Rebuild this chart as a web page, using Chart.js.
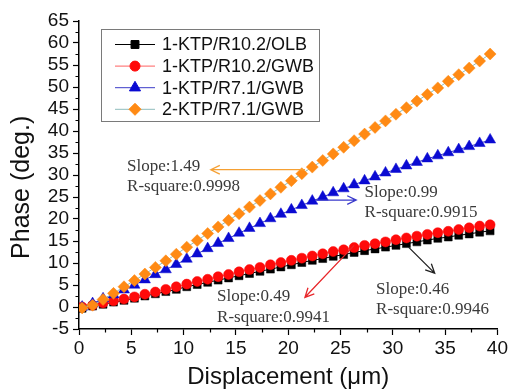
<!DOCTYPE html>
<html>
<head>
<meta charset="utf-8">
<script src="https://cdn.jsdelivr.net/npm/chart.js@4"></script>
<style>
  html, body { margin: 0; padding: 0; background: #fff; }
  #wrap { width: 510px; height: 392px; }
</style>
</head>
<body>
<div id="wrap"><canvas id="c" width="510" height="392"></canvas></div>
<script>
// Displacement (µm) of each measurement
const displacement = [0.3, 1.3, 2.3, 3.3, 4.3, 5.3, 6.3, 7.3, 8.3, 9.3,
  10.3, 11.3, 12.3, 13.3, 14.3, 15.3, 16.3, 17.3, 18.3, 19.3,
  20.3, 21.3, 22.3, 23.3, 24.3, 25.3, 26.3, 27.3, 28.3, 29.3,
  30.3, 31.3, 32.3, 33.3, 34.3, 35.3, 36.3, 37.3, 38.3, 39.3];

// Phase (deg.) per sensor configuration
const phaseKTP1_R102_OLB = [-0.3, 0.2, 0.6, 1.1, 1.5, 2.0, 2.5, 3.0, 3.5, 4.0,
  4.6, 5.1, 5.6, 6.1, 6.6, 7.1, 7.6, 8.1, 8.6, 9.1,
  9.6, 10.1, 10.6, 11.0, 11.5, 11.9, 12.4, 12.8, 13.2, 13.6,
  14.0, 14.4, 14.8, 15.2, 15.6, 15.9, 16.3, 16.6, 17.0, 17.3];
const phaseKTP1_R102_GWB = [0.0, 0.4, 0.9, 1.4, 1.8, 2.3, 2.9, 3.4, 4.0, 4.6,
  5.2, 5.8, 6.3, 6.9, 7.4, 8.0, 8.5, 9.0, 9.6, 10.1,
  10.6, 11.1, 11.6, 12.1, 12.6, 13.0, 13.5, 14.0, 14.4, 14.8,
  15.3, 15.7, 16.1, 16.5, 16.9, 17.2, 17.6, 18.0, 18.4, 18.7];
const phaseKTP1_R71_GWB = [0.0, 0.8, 1.9, 2.8, 3.9, 5.0, 6.2, 7.4, 8.5, 9.7,
  10.9, 12.1, 13.3, 14.5, 15.6, 16.8, 17.9, 19.0, 20.1, 21.1,
  22.1, 23.1, 24.1, 25.0, 26.0, 26.9, 27.8, 28.7, 29.6, 30.5,
  31.3, 32.1, 32.9, 33.7, 34.4, 35.1, 35.8, 36.5, 37.2, 38.0];
const phaseKTP2_R71_GWB = [-0.2, 0.4, 1.7, 3.1, 4.6, 6.0, 7.5, 9.0, 10.5, 12.0,
  13.6, 15.1, 16.7, 18.2, 19.7, 21.2, 22.7, 24.2, 25.7, 27.2,
  28.7, 30.3, 31.8, 33.3, 34.8, 36.3, 37.8, 39.3, 40.8, 42.3,
  43.8, 45.3, 46.8, 48.3, 49.8, 51.3, 52.8, 54.3, 55.9, 57.5];

const seriesNames = ['1-KTP/R10.2/OLB', '1-KTP/R10.2/GWB', '1-KTP/R7.1/GWB', '2-KTP/R7.1/GWB'];

// Axis ranges and tick steps
const xTicks = { min: 0, max: 40, step: 5 };
const yTicks = { min: -5, max: 65, step: 5 };

// Linear-fit notes: text lines, text anchor and arrow (data units)
const fitNotes = [
  { lines: ['Slope:0.46', 'R-square:0.9946'], at: [28.4, 4.0], from: [31.5, 13.6], to: [34.0, 7.7], color: '#222222' },
  { lines: ['Slope:0.49', 'R-square:0.9941'], at: [13.2, 2.3], from: [26.3, 14.0], to: [21.6, 2.2], color: '#e8262a' },
  { lines: ['Slope:0.99', 'R-square:0.9915'], at: [27.3, 26.1], from: [22.6, 24.3], to: [26.5, 24.3], color: '#3a3acc' },
  { lines: ['Slope:1.49', 'R-square:0.9998'], at: [4.6, 32.0], from: [21.6, 31.2], to: [12.6, 31.2], color: '#f5a033' }
];

function pts(ys) { return displacement.map((x, i) => ({ x: x, y: ys[i] })); }

const styles = [
  { line: '#000000', fill: '#000000', pointStyle: 'rect', radius: 5.6 },
  { line: '#ff6060', fill: '#ff0a0a', pointStyle: 'circle', radius: 5 },
  { line: '#3c3cc8', fill: '#0a0ad2', pointStyle: 'triangle', radius: 6.4 },
  { line: '#8fbcbc', fill: '#ff8a14', pointStyle: 'rectRot', radius: 6 }
];
const seriesValues = [phaseKTP1_R102_OLB, phaseKTP1_R102_GWB, phaseKTP1_R71_GWB, phaseKTP2_R71_GWB];

const datasets = seriesValues.map((vals, i) => ({
  label: seriesNames[i],
  data: pts(vals),
  borderColor: styles[i].line,
  borderWidth: 1,
  backgroundColor: styles[i].fill,
  pointBackgroundColor: styles[i].fill,
  pointBorderColor: styles[i].fill,
  pointBorderWidth: 0.5,
  pointStyle: styles[i].pointStyle,
  pointRadius: styles[i].radius,
  pointHoverRadius: styles[i].radius,
  showLine: true,
  tension: 0,
  order: 4 - i
}));

const tickFont = { family: '"Liberation Sans", Arial, sans-serif', size: 19 };

// Draws minor ticks, axis titles, the legend box and the fit notes
const decorations = {
  id: 'decorations',
  afterDraw(chart) {
    const ctx = chart.ctx;
    const xs = chart.scales.x, ys = chart.scales.y;
    const area = chart.chartArea;
    ctx.save();

    // minor ticks halfway between major ticks
    ctx.strokeStyle = '#000';
    ctx.lineWidth = 1.2;
    ctx.beginPath();
    for (let v = xTicks.min + xTicks.step / 2; v < xTicks.max; v += xTicks.step) {
      const px = Math.round(xs.getPixelForValue(v)) + 0.5;
      ctx.moveTo(px, area.bottom); ctx.lineTo(px, area.bottom + 3.5);
    }
    for (let v = yTicks.min + yTicks.step / 2; v < yTicks.max; v += yTicks.step) {
      const py = Math.round(ys.getPixelForValue(v)) + 0.5;
      ctx.moveTo(area.left, py); ctx.lineTo(area.left - 3.5, py);
    }
    ctx.stroke();

    // axis titles
    ctx.fillStyle = '#111';
    ctx.font = '24px "Liberation Sans", Arial, sans-serif';
    ctx.textAlign = 'center';
    ctx.textBaseline = 'middle';
    ctx.fillText('Displacement (\u03bcm)', (area.left + area.right) / 2, 377);
    ctx.save();
    ctx.translate(22, area.top + (area.bottom - area.top) * 0.54);
    ctx.rotate(-Math.PI / 2);
    ctx.font = '25px "Liberation Sans", Arial, sans-serif';
    ctx.fillText('Phase (deg.)', 0, 0);
    ctx.restore();

    // legend
    const lx = 101.5, ly = 29.5, lw = 218, lh = 92;
    ctx.fillStyle = '#fff';
    ctx.fillRect(lx, ly, lw, lh);
    ctx.strokeStyle = '#7a7a7a';
    ctx.lineWidth = 1;
    ctx.strokeRect(lx, ly, lw, lh);
    ctx.font = '18px "Liberation Sans", Arial, sans-serif';
    ctx.textAlign = 'left';
    ctx.textBaseline = 'middle';
    seriesNames.forEach((name, i) => {
      const cy = ly + 15 + i * 21.6;
      ctx.strokeStyle = styles[i].line;
      ctx.lineWidth = 1;
      ctx.beginPath();
      ctx.moveTo(115, cy); ctx.lineTo(155, cy);
      ctx.stroke();
      ctx.fillStyle = styles[i].fill;
      ctx.strokeStyle = styles[i].fill;
      Chart.helpers.drawPoint(ctx, {
        pointStyle: styles[i].pointStyle, radius: styles[i].radius, rotation: 0, borderWidth: 0.5
      }, 135, cy);
      ctx.fillStyle = '#111';
      ctx.fillText(name, 162, cy + 1);
    });

    // fit notes with arrows
    fitNotes.forEach(n => {
      const x0 = xs.getPixelForValue(n.from[0]), y0 = ys.getPixelForValue(n.from[1]);
      const x1 = xs.getPixelForValue(n.to[0]), y1 = ys.getPixelForValue(n.to[1]);
      const ang = Math.atan2(y1 - y0, x1 - x0);
      const head = 10, spread = 0.45;
      ctx.strokeStyle = n.color;
      ctx.lineWidth = 1.3;
      ctx.beginPath();
      ctx.moveTo(x0, y0); ctx.lineTo(x1, y1);
      ctx.moveTo(x1 - head * Math.cos(ang - spread), y1 - head * Math.sin(ang - spread));
      ctx.lineTo(x1, y1);
      ctx.lineTo(x1 - head * Math.cos(ang + spread), y1 - head * Math.sin(ang + spread));
      ctx.stroke();

      const tx = xs.getPixelForValue(n.at[0]), ty = ys.getPixelForValue(n.at[1]);
      ctx.fillStyle = '#3a3a3a';
      ctx.font = '17px "Liberation Serif", "Times New Roman", serif';
      ctx.textAlign = 'left';
      ctx.textBaseline = 'middle';
      n.lines.forEach((t, k) => ctx.fillText(t, tx, ty + k * 20.5));
    });
    ctx.restore();
  }
};

new Chart(document.getElementById('c'), {
  type: 'scatter',
  data: { datasets: datasets },
  options: {
    responsive: false,
    devicePixelRatio: 1,
    animation: false,
    events: [],
    layout: { padding: { left: 0, right: 10, top: 21, bottom: 0 } },
    plugins: { legend: { display: false }, tooltip: { enabled: false } },
    scales: {
      x: {
        type: 'linear',
        min: xTicks.min, max: xTicks.max,
        ticks: { stepSize: xTicks.step, autoSkip: false, color: '#111', font: tickFont, padding: 2, maxRotation: 0 },
        grid: { drawOnChartArea: false, drawTicks: true, tickLength: 6, color: '#000', tickWidth: 1.2 },
        border: { display: true, color: '#000', width: 1.5 },
        afterFit(scale) { scale.height = 63; }
      },
      y: {
        type: 'linear',
        min: yTicks.min, max: yTicks.max,
        ticks: { stepSize: yTicks.step, autoSkip: false, color: '#111', font: tickFont, padding: 4 },
        grid: { drawOnChartArea: false, drawTicks: true, tickLength: 6, color: '#000', tickWidth: 1.2 },
        border: { display: true, color: '#000', width: 1.5 },
        afterFit(scale) { scale.width = 79; }
      }
    }
  },
  plugins: [decorations]
});
</script>
</body>
</html>
